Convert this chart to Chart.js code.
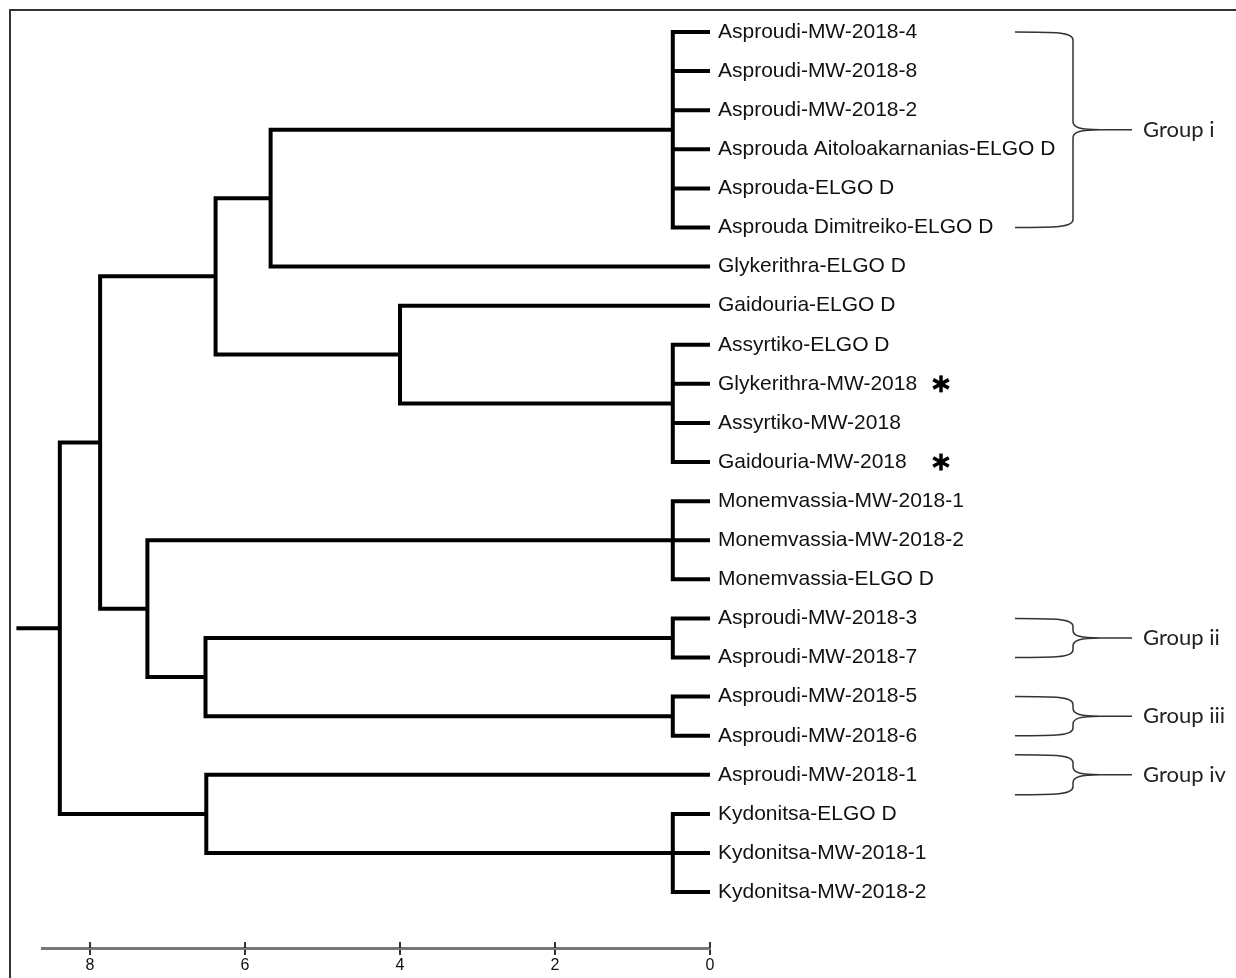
<!DOCTYPE html>
<html lang="en">
<head>
<meta charset="UTF-8">
<title>Dendrogram</title>
<script src="https://cdn.jsdelivr.net/npm/chart.js"></script>
<style>
  body { margin: 0; background: #fff; }
  #wrap { width: 1236px; height: 978px; }
</style>
</head>
<body>
<div id="wrap"><canvas id="dendro"></canvas></div>
<script>
  // leaves, top to bottom
  const leafNames = [
    'Asproudi-MW-2018-4', 'Asproudi-MW-2018-8', 'Asproudi-MW-2018-2',
    'Asprouda Aitoloakarnanias-ELGO D', 'Asprouda-ELGO D', 'Asprouda Dimitreiko-ELGO D',
    'Glykerithra-ELGO D', 'Gaidouria-ELGO D', 'Assyrtiko-ELGO D',
    'Glykerithra-MW-2018', 'Assyrtiko-MW-2018', 'Gaidouria-MW-2018',
    'Monemvassia-MW-2018-1', 'Monemvassia-MW-2018-2', 'Monemvassia-ELGO D',
    'Asproudi-MW-2018-3', 'Asproudi-MW-2018-7', 'Asproudi-MW-2018-5',
    'Asproudi-MW-2018-6', 'Asproudi-MW-2018-1', 'Kydonitsa-ELGO D',
    'Kydonitsa-MW-2018-1', 'Kydonitsa-MW-2018-2'
  ];

  // internal nodes: numbers are leaves, 'nK' is node K
  const nodeChildren = [
    [0, 1, 2, 3, 4, 5],
    ['n0', 6],
    [8, 9, 10, 11],
    [7, 'n2'],
    ['n1', 'n3'],
    [12, 13, 14],
    [15, 16],
    [17, 18],
    ['n6', 'n7'],
    ['n5', 'n8'],
    ['n4', 'n9'],
    [20, 21, 22],
    [19, 'n11'],
    ['n10', 'n12']
  ];
  const nodeHeights = [0.48, 5.67, 0.48, 4.0, 6.38, 0.48, 0.48, 0.48, 6.51, 7.26, 7.87, 0.48, 6.5, 8.39];
  const rootStub = 8.95;

  const tickValues = [8, 6, 4, 2, 0];
  const starredLeaves = [9, 11];

  const groupNames = ['Group i', 'Group ii', 'Group iii', 'Group iv'];
  const groupFirst = [0, 15, 17, 19];
  const groupLast = [5, 16, 18, 19];

  // node positions (h = height, y = row)
  const nodePos = [];
  function pos(c) {
    if (typeof c === 'number') return { h: 0, y: c };
    return nodePos[+c.slice(1)];
  }
  nodeChildren.forEach((kids, k) => {
    const a = pos(kids[0]), b = pos(kids[kids.length - 1]);
    nodePos[k] = { h: nodeHeights[k], y: (a.y + b.y) / 2 };
  });

  const paths = [];
  nodeChildren.forEach((kids, k) => {
    const h = nodeHeights[k];
    const a = pos(kids[0]), b = pos(kids[kids.length - 1]);
    paths.push([{ x: a.h, y: a.y }, { x: h, y: a.y }, { x: h, y: b.y }, { x: b.h, y: b.y }]);
    kids.slice(1, -1).forEach(c => {
      const p = pos(c);
      paths.push([{ x: p.h, y: p.y }, { x: h, y: p.y }]);
    });
  });
  const root = nodePos[nodePos.length - 1];
  paths.push([{ x: root.h, y: root.y }, { x: rootStub, y: root.y }]);

  const datasets = paths.map(p => ({
    data: p,
    borderColor: '#000',
    borderWidth: 4,
    pointRadius: 0,
    tension: 0,
    fill: false,
    clip: false,
    borderJoinStyle: 'miter',
    borderCapStyle: 'butt'
  }));

  const extras = {
    id: 'extras',
    beforeDraw(chart) {
      const c = chart.ctx;
      c.save();
      c.fillStyle = '#fff';
      c.fillRect(0, 0, chart.width, chart.height);
      c.strokeStyle = '#333';
      c.lineWidth = 2;
      c.beginPath();
      c.moveTo(10, chart.height);
      c.lineTo(10, 10);
      c.lineTo(chart.width, 10);
      c.stroke();
      c.restore();
    },
    afterDraw(chart) {
      const c = chart.ctx;
      const xs = chart.scales.x, ys = chart.scales.y;
      const axisY = chart.chartArea.bottom;
      c.save();

      // upper half of the scale ticks
      c.strokeStyle = '#333';
      c.lineWidth = 2;
      tickValues.forEach(v => {
        const px = xs.getPixelForValue(v);
        c.beginPath();
        c.moveTo(px, axisY - 6);
        c.lineTo(px, axisY);
        c.stroke();
      });

      // asterisks
      c.strokeStyle = '#000';
      c.lineWidth = 3.5;
      starredLeaves.forEach(i => {
        const cx = 941, cy = ys.getPixelForValue(i);
        [90, 30, 150].forEach(a => {
          const r = a * Math.PI / 180, dx = Math.cos(r) * 9, dy = Math.sin(r) * 8.5;
          c.beginPath();
          c.moveTo(cx - dx, cy - dy);
          c.lineTo(cx + dx, cy + dy);
          c.stroke();
        });
      });

      // group braces
      c.strokeStyle = '#333';
      c.lineWidth = 1.5;
      c.fillStyle = '#222';
      c.font = '22px Lato';
      c.textBaseline = 'middle';
      const x0 = 1015, xv = 1073, xt = 1100, xe = 1132;
      groupNames.forEach((name, g) => {
        let top = ys.getPixelForValue(groupFirst[g]);
        let bot = ys.getPixelForValue(groupLast[g]);
        if (groupFirst[g] === groupLast[g]) { top -= 20; bot += 20; }
        const mid = (top + bot) / 2;
        const r = Math.min(8, (bot - top) / 5);
        c.beginPath();
        c.moveTo(x0, top);
        c.bezierCurveTo(x0 + 40, top, xv, top, xv, top + r);
        c.lineTo(xv, mid - r);
        c.bezierCurveTo(xv, mid - 2, xv + 8, mid, xt, mid);
        c.bezierCurveTo(xv + 8, mid, xv, mid + 2, xv, mid + r);
        c.lineTo(xv, bot - r);
        c.bezierCurveTo(xv, bot, x0 + 40, bot, x0, bot);
        c.moveTo(xt, mid);
        c.lineTo(xe, mid);
        c.stroke();
        c.fillText(name, 1143, mid);
      });
      c.restore();
    }
  };

  new Chart(document.getElementById('dendro'), {
    type: 'line',
    data: { datasets: datasets },
    options: {
      responsive: true,
      maintainAspectRatio: false,
      animation: false,
      layout: { padding: { top: 10, left: 42, right: 0, bottom: 0 } },
      plugins: { legend: { display: false }, tooltip: { enabled: false } },
      scales: {
        x: {
          type: 'linear',
          min: 0,
          max: 8.62,
          reverse: true,
          position: 'bottom',
          afterBuildTicks: s => { s.ticks = tickValues.map(v => ({ value: v })); },
          afterFit: s => { s.height = 30; },
          grid: { display: true, drawOnChartArea: false, drawTicks: true, tickLength: 7, color: '#333', lineWidth: 2 },
          border: { display: true, color: '#777', width: 3 },
          ticks: { font: { family: 'Liberation Sans', size: 16 }, color: '#111', padding: 1, maxRotation: 0, autoSkip: false }
        },
        y: {
          type: 'linear',
          min: -0.563,
          max: 23.43,
          reverse: true,
          position: 'right',
          afterBuildTicks: s => { s.ticks = leafNames.map((_, i) => ({ value: i })); },
          afterFit: s => { s.width = 526; s.paddingTop = 0; s.paddingBottom = 0; },
          grid: { display: false },
          border: { display: false },
          ticks: {
            callback: v => leafNames[v],
            font: { family: 'Liberation Sans', size: 21 },
            color: '#111',
            padding: 0,
            autoSkip: false
          }
        }
      }
    },
    plugins: [extras]
  });
</script>
</body>
</html>
